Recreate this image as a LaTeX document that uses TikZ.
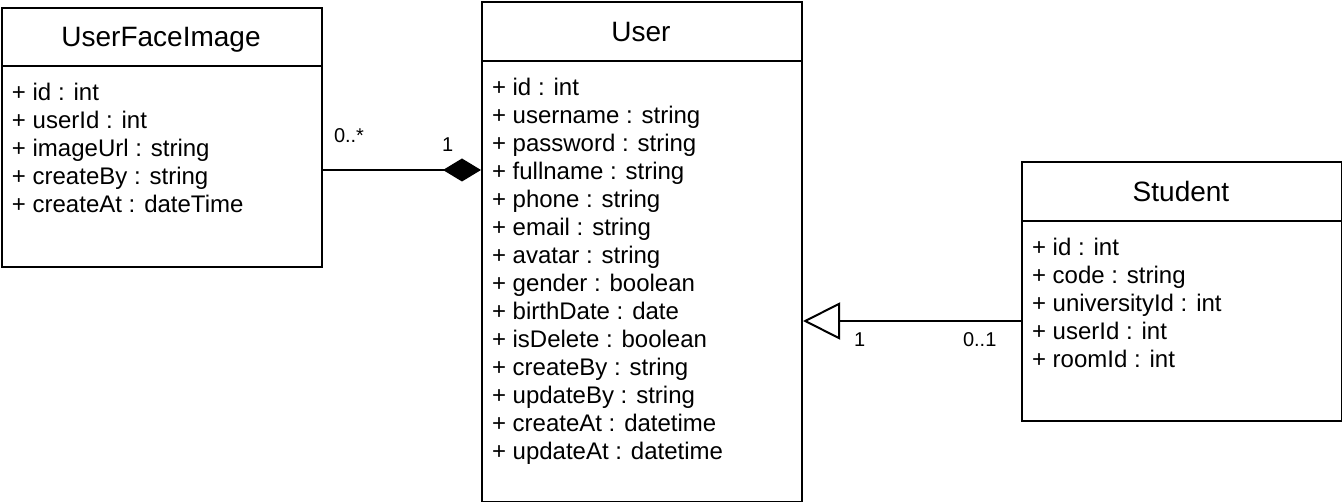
\documentclass[tikz,border=0pt]{standalone}
\usepackage{fontspec}
\setmainfont{Liberation Sans}
\usetikzlibrary{arrows.meta}
\begin{document}
\begin{tikzpicture}[x=1pt,y=-1pt,line width=2pt,
  classbox/.style={draw,rectangle,inner sep=0pt,anchor=north west},
  classtitle/.style={font=\fontsize{28}{32}\selectfont,anchor=base,inner sep=0pt},
  attr/.style={font=\fontsize{24}{28}\selectfont,anchor=base west,inner sep=0pt},
  mult/.style={font=\fontsize{20}{24}\selectfont,anchor=base west,inner sep=0pt},
  divider/.style={line width=2pt}]
\useasboundingbox (0,0) rectangle (1342,502);

% UserFaceImage
\node[classbox,minimum width=320pt,minimum height=259pt] (ufi) at (1,7) {};
\draw[divider] (1,66) -- (321,66);
\node[classtitle] (ufiT) at (161,47) {UserFaceImage};
\foreach \t [count=\i] in {{+ id : int},{+ userId : int},{+ imageUrl : string},{+ createBy : string},{+ createAt : dateTime}}
  \node[attr] (ufiA\i) at (11,{101+28*(\i-1)}) {\t};

% User
\node[classbox,minimum width=320pt,minimum height=500pt] (usr) at (481,1) {};
\draw[divider] (481,61) -- (801,61);
\node[classtitle] (usrT) at (641,42) {User};
\foreach \t [count=\i] in {{+ id : int},{+ username : string},{+ password : string},{+ fullname : string},{+ phone : string},{+ email : string},{+ avatar : string},{+ gender : boolean},{+ birthDate : date},{+ isDelete : boolean},{+ createBy : string},{+ updateBy : string},{+ createAt : datetime},{+ updateAt : datetime}}
  \node[attr] (usrA\i) at (491,{96+28*(\i-1)}) {\t};

% Student
\node[classbox,minimum width=320pt,minimum height=259pt] (stu) at (1021,161) {};
\draw[divider] (1021,221) -- (1341,221);
\node[classtitle] (stuT) at (1181,202) {Student};
\foreach \t [count=\i] in {{+ id : int},{+ code : string},{+ universityId : int},{+ userId : int},{+ roomId : int}}
  \node[attr] (stuA\i) at (1031,{256+28*(\i-1)}) {\t};

% composition
\coordinate (c1) at (321,170);
\coordinate (c2) at (usr.west |- c1);
\draw[-{Diamond[length=38pt,width=23pt]}] (c1) -- (c2);
\node[mult] (m1) at (333,143) {0..*};
\node[mult] (m2) at (441,152) {1};

% generalization
\coordinate (c3) at (1021,321);
\coordinate (c4) at (usr.east |- c3);
\draw[-{Triangle[open,length=37pt,width=37pt,fill=white]}] (c3) -- (c4);
\node[mult] (m3) at (853,347) {1};
\node[mult] (m4) at (962,347) {0..1};
\end{tikzpicture}
\end{document}
